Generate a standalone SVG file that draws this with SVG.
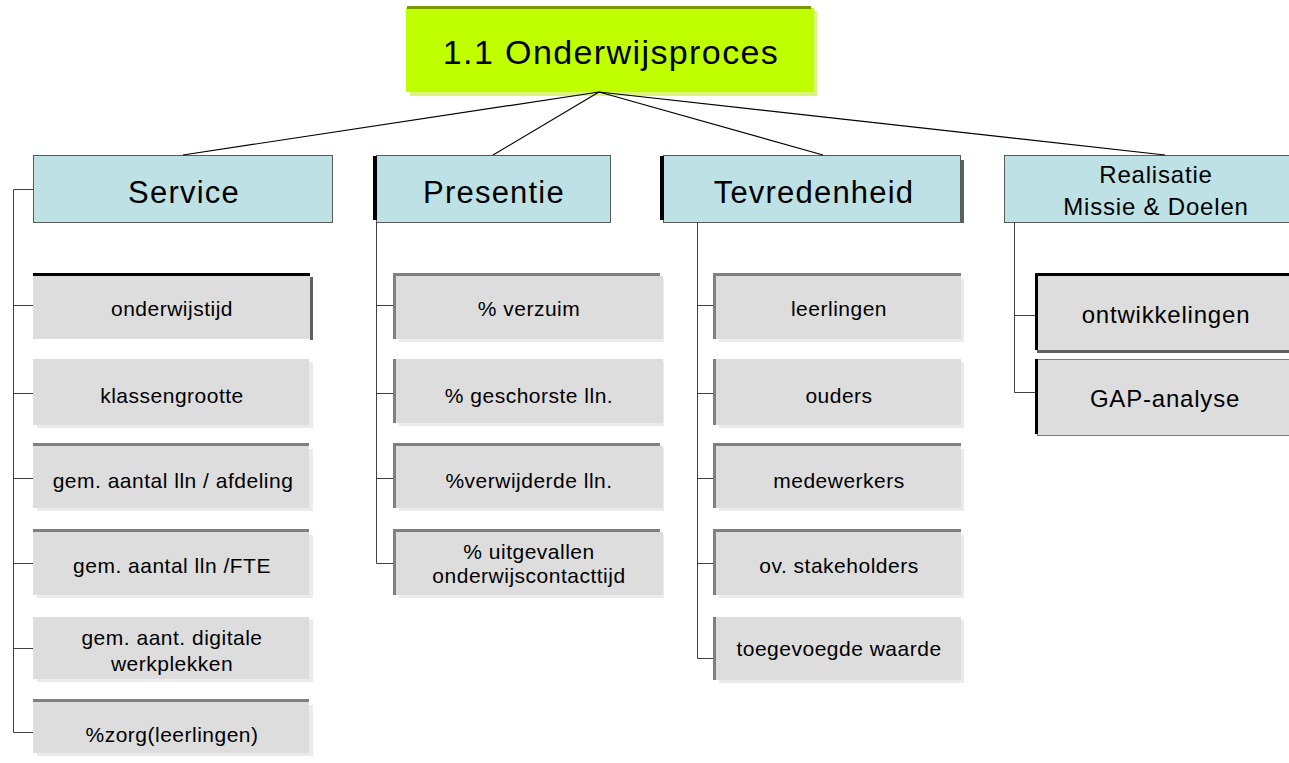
<svg xmlns="http://www.w3.org/2000/svg" width="1289" height="763" viewBox="0 0 1289 763">
  <style>
    text { font-family: "Liberation Sans", Arial, sans-serif; fill: #000; text-anchor: middle; }
    .t34 { font-size: 34px; letter-spacing: 1.4px; }
    .t31 { font-size: 31px; letter-spacing: 1.2px; }
    .t24 { font-size: 24px; letter-spacing: 0.8px; }
    .t21 { font-size: 21px; letter-spacing: 0.5px; }
    .hdr { fill: #BDE1E4; stroke: #5A5A5A; stroke-width: 1; }
    .box { fill: #DDDDDD; }
    .sh { fill: #EBEBEB; }
    .bar { fill: #808080; }
    .blk { fill: #000000; }
    .dsh { fill: #5F5F5F; }
    .link { stroke: #000; stroke-width: 1.2; fill: none; }
    .tree { stroke: #404040; stroke-width: 1; fill: none; }
  </style>

  <!-- root -->
  <g id="root">
    <rect x="410" y="11" width="407" height="85" fill="#DAF57A"/>
    <rect x="406" y="8" width="408" height="84" fill="#BFFF00"/>
    <rect x="407" y="6" width="404" height="3" fill="#7A9A00"/>
    <text class="t34" x="611" y="64">1.1 Onderwijsproces</text>
  </g>

  <!-- headers -->
  <g id="service">
    <rect class="hdr" x="33.5" y="155.5" width="299" height="67"/>
    <text class="t31" x="184" y="203">Service</text>
  </g>
  <g id="presentie">
    <rect class="hdr" x="376.5" y="155.5" width="234" height="67"/>
    <rect class="blk" x="373" y="156" width="4" height="64"/>
    <text class="t31" x="494" y="203">Presentie</text>
  </g>
  <g id="tevredenheid">
    <rect class="dsh" x="961" y="160" width="3" height="63"/>
    <rect class="hdr" x="663.5" y="155.5" width="297" height="67"/>
    <rect class="blk" x="660" y="156" width="4" height="64"/>
    <text class="t31" x="814" y="203">Tevredenheid</text>
  </g>
  <g id="realisatie">
    <rect class="hdr" x="1004.5" y="155.5" width="290" height="67"/>
    <text class="t24" x="1156" y="183">Realisatie</text>
    <text class="t24" x="1156" y="215">Missie &amp; Doelen</text>
  </g>

  <!-- Service items -->
  <g id="onderwijstijd">
    <rect class="dsh" x="310" y="277" width="3" height="63"/>
    <rect class="box" x="33" y="276" width="277" height="63"/>
    <rect class="blk" x="33" y="273" width="277" height="3"/>
    <text class="t21" x="172" y="316">onderwijstijd</text>
  </g>
  <g id="klassengrootte">
    <rect class="sh" x="37" y="362" width="276" height="66"/>
    <rect class="box" x="33" y="359" width="276" height="66"/>
    <text class="t21" x="172" y="403">klassengrootte</text>
  </g>
  <g id="lln-afdeling">
    <rect class="sh" x="37" y="449" width="276" height="62"/>
    <rect class="box" x="33" y="446" width="276" height="62"/>
    <rect class="bar" x="33" y="443" width="276" height="3"/>
    <text class="t21" x="173" y="488">gem. aantal lln / afdeling</text>
  </g>
  <g id="lln-fte">
    <rect class="sh" x="37" y="535" width="276" height="63"/>
    <rect class="box" x="33" y="532" width="276" height="63"/>
    <rect class="bar" x="33" y="529" width="276" height="3"/>
    <text class="t21" x="172" y="573">gem. aantal lln /FTE</text>
  </g>
  <g id="werkplekken">
    <rect class="sh" x="37" y="620" width="276" height="62"/>
    <rect class="box" x="33" y="617" width="276" height="62"/>
    <text class="t21" x="172" y="645">gem. aant. digitale</text>
    <text class="t21" x="172" y="671">werkplekken</text>
  </g>
  <g id="zorg">
    <rect class="sh" x="37" y="705" width="276" height="51"/>
    <rect class="box" x="33" y="702" width="276" height="51"/>
    <rect class="bar" x="33" y="699" width="276" height="3"/>
    <text class="t21" x="172" y="742">%zorg(leerlingen)</text>
  </g>

  <!-- Presentie items -->
  <g id="verzuim">
    <rect class="sh" x="399" y="279" width="265" height="63"/>
    <rect class="box" x="396" y="276" width="267" height="63"/>
    <rect class="bar" x="393" y="273" width="267" height="3"/>
    <rect class="bar" x="393" y="273" width="3" height="66"/>
    <text class="t21" x="529" y="316">% verzuim</text>
  </g>
  <g id="geschorst">
    <rect class="sh" x="399" y="362" width="265" height="64"/>
    <rect class="box" x="396" y="359" width="267" height="64"/>
    <rect class="bar" x="393" y="359" width="3" height="64"/>
    <text class="t21" x="529" y="403">% geschorste lln.</text>
  </g>
  <g id="verwijderd">
    <rect class="sh" x="399" y="449" width="265" height="62"/>
    <rect class="box" x="396" y="446" width="267" height="62"/>
    <rect class="bar" x="393" y="443" width="267" height="3"/>
    <rect class="bar" x="393" y="443" width="3" height="65"/>
    <text class="t21" x="529" y="488">%verwijderde lln.</text>
  </g>
  <g id="uitgevallen">
    <rect class="sh" x="399" y="535" width="265" height="63"/>
    <rect class="box" x="396" y="532" width="267" height="63"/>
    <rect class="bar" x="393" y="529" width="267" height="3"/>
    <rect class="bar" x="393" y="529" width="3" height="66"/>
    <text class="t21" x="529" y="559">% uitgevallen</text>
    <text class="t21" x="529" y="583">onderwijscontacttijd</text>
  </g>

  <!-- Tevredenheid items -->
  <g id="leerlingen">
    <rect class="sh" x="719" y="279" width="245" height="63"/>
    <rect class="box" x="716" y="276" width="245" height="63"/>
    <rect class="bar" x="713" y="273" width="248" height="3"/>
    <rect class="bar" x="713" y="273" width="3" height="66"/>
    <text class="t21" x="839" y="316">leerlingen</text>
  </g>
  <g id="ouders">
    <rect class="sh" x="719" y="362" width="245" height="66"/>
    <rect class="box" x="716" y="359" width="245" height="66"/>
    <rect class="bar" x="713" y="359" width="3" height="66"/>
    <text class="t21" x="839" y="403">ouders</text>
  </g>
  <g id="medewerkers">
    <rect class="sh" x="719" y="449" width="245" height="62"/>
    <rect class="box" x="716" y="446" width="245" height="62"/>
    <rect class="bar" x="713" y="443" width="248" height="3"/>
    <rect class="bar" x="713" y="443" width="3" height="65"/>
    <text class="t21" x="839" y="488">medewerkers</text>
  </g>
  <g id="stakeholders">
    <rect class="sh" x="719" y="535" width="245" height="63"/>
    <rect class="box" x="716" y="532" width="245" height="63"/>
    <rect class="bar" x="713" y="529" width="248" height="3"/>
    <rect class="bar" x="713" y="529" width="3" height="66"/>
    <text class="t21" x="839" y="573">ov. stakeholders</text>
  </g>
  <g id="toegevoegde-waarde">
    <rect class="sh" x="719" y="620" width="245" height="63"/>
    <rect class="box" x="716" y="617" width="245" height="63"/>
    <rect class="bar" x="713" y="617" width="3" height="63"/>
    <text class="t21" x="839" y="656">toegevoegde waarde</text>
  </g>

  <!-- Realisatie items -->
  <g id="ontwikkelingen">
    <rect class="box" x="1037" y="276" width="252" height="74"/>
    <rect class="dsh" x="1037" y="350" width="252" height="3"/>
    <rect class="blk" x="1035" y="273" width="254" height="3"/>
    <rect class="blk" x="1035" y="273" width="3" height="77"/>
    <text class="t24" x="1166" y="323">ontwikkelingen</text>
  </g>
  <g id="gap-analyse">
    <rect x="1037.5" y="359.5" width="255" height="76" fill="#DDDDDD" stroke="#7A7A7A" stroke-width="1"/>
    <rect class="blk" x="1035" y="359" width="3" height="75"/>
    <text class="t24" x="1165" y="407">GAP-analyse</text>
  </g>

  <!-- connectors, drawn last so they meet at the root's bottom edge -->
  <g id="connectors">
    <line class="link" x1="599" y1="92" x2="183" y2="155"/>
    <line class="link" x1="599" y1="92" x2="493" y2="155"/>
    <line class="link" x1="599" y1="92" x2="823" y2="155"/>
    <line class="link" x1="599" y1="92" x2="1165" y2="155"/>
    <!-- Service branch -->
    <path class="tree" d="M33,189.5 H13.5 V732.5 M13.5,305.5 H33 M13.5,393.5 H33 M13.5,478.5 H33 M13.5,563.5 H33 M13.5,648.5 H33 M13.5,732.5 H33"/>
    <!-- Presentie branch -->
    <path class="tree" d="M376.5,222 V563.5 M376.5,305.5 H393 M376.5,393.5 H393 M376.5,478.5 H393 M376.5,563.5 H393"/>
    <!-- Tevredenheid branch -->
    <path class="tree" d="M697.5,222 V658.5 M697.5,305.5 H713 M697.5,393.5 H713 M697.5,478.5 H713 M697.5,563.5 H713 M697.5,658.5 H713"/>
    <!-- Realisatie branch -->
    <path class="tree" d="M1014.5,222 V392.5 M1014.5,315.5 H1035 M1014.5,392.5 H1035"/>
  </g>
</svg>
